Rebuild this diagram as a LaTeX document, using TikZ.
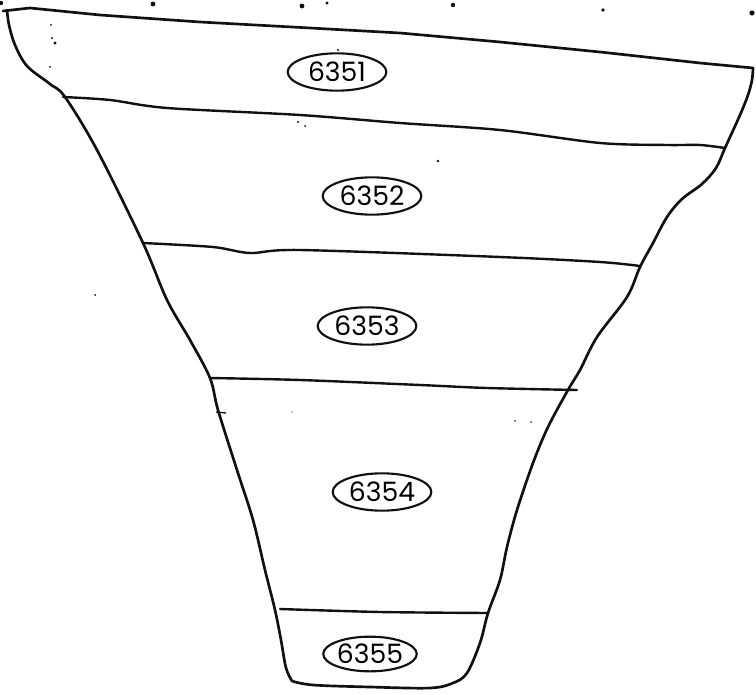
\documentclass[tikz,border=0pt]{standalone}
\usepackage{fontspec}
\setsansfont{Poppins}
\usepackage{tikz}
\usetikzlibrary{shapes.geometric}
\usepackage{xcolor}
\definecolor{ink}{HTML}{111111}
\tikzset{funneledge/.style={draw=ink,line width=2pt,line cap=round,line join=round},
  divider/.style={draw=ink,line width=1.8pt,line cap=round},
  tagoval/.style={draw=ink,ellipse,line width=1.6pt,inner sep=0pt,minimum width=74pt,minimum height=28pt,font=\sffamily\fontsize{20}{22}\selectfont},
  speck/.style={fill=ink}}

\begin{document}
\begin{tikzpicture}[x=0.75pt,y=-0.75pt]
\useasboundingbox (0,0) rectangle (756,695);
% outline of the funnel
\draw[funneledge] (3,11) -- (30,8) -- (100,15) -- (200,22) -- (292,27) -- (400,33) -- (500,42) -- (600,52) -- (700,63) -- (753,68);
\draw[funneledge] plot[smooth,tension=.55] coordinates {(7,10) (9,25) (15,45) (27,66) (50,84) (65,97) (97,150) (143,243) (167,300) (190,340) (210,378) (218,410) (237,470) (253,520) (265,570) (275,610) (281,640) (286,668) (292,681)};
\draw[funneledge] plot[smooth,tension=.55] coordinates {(292,681) (313,685) (370,687) (430,688) (453,683) (467,673) (480,643) (488,613) (500,580) (507,547) (517,510) (533,463) (548,427) (568,390) (580,370) (597,337) (627,297) (640,267) (653,243) (667,217) (682,199) (702,184) (716,168) (725,148) (740,115) (748,95) (752,80) (753,68)};
% bands
\draw[divider] plot[smooth,tension=.5] coordinates {(63,97) (110,100) (167,108) (300,115) (400,123) (500,130) (600,143) (667,145) (700,145) (725,148)};
\draw[divider] plot[smooth,tension=.5] coordinates {(143,243) (213,247) (250,253) (300,250) (500,257) (600,262) (640,266)};
\draw[divider] plot[smooth,tension=.5] coordinates {(210,378) (300,380) (420,385) (487,388) (577,390)};
\draw[divider] plot[smooth,tension=.5] coordinates {(280,609) (380,612) (488,613)};
\draw[ink,line width=1pt] (216,412) -- (226,413);
% labels
\node[tagoval] (b6351) at (337,72) {6351};
\node[tagoval] (b6352) at (372,196) {6352};
\node[tagoval] (b6353) at (367,326) {6353};
\node[tagoval] (b6354) at (382,492) {6354};
\node[tagoval,minimum width=68pt,minimum height=26pt] (b6355) at (370,654) {6355};
% specks from the scan
\foreach \sx/\sy/\sr in {1/3/2.2,153/4/2.4,302/6/2.4,327/3/1.6,453/5/2.2,603/10/1.8,752/13/2.6,51/25/1,52/38/1.2,55/43/1.6,50/67/1,338/50/1.2,298/122/1.2,305/126/1,438/161/1.4,95/295/1,515/421/.8,531/422/.8,292/412/.7}
  \fill[speck] (\sx,\sy) circle (\sr);
\end{tikzpicture}
\end{document}
